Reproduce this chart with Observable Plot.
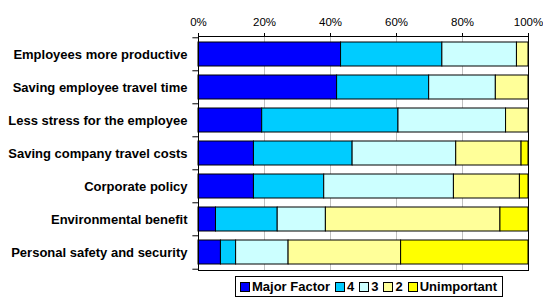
<!DOCTYPE html>
<html>
<head>
<meta charset="utf-8">
<script src="https://cdn.jsdelivr.net/npm/d3@7"></script>
<script src="https://cdn.jsdelivr.net/npm/@observablehq/plot@0.6"></script>
<style>
  body { margin: 0; background: #fff; font-family: "Liberation Sans", Arial, sans-serif; }
  #wrap { position: relative; width: 543px; height: 298px; }
  #legend { position: absolute; left: 235px; top: 276px; height: 19px; border: 1px solid #000;
    display: flex; align-items: center; padding: 0 3px 0 1px; font-weight: bold; font-size: 13px; white-space: nowrap; background:#fff; }
  .sw { display: inline-block; width: 8px; height: 8px; border: 1px solid #000; margin: 0 2px 0 3px; }
  .it { display: inline-flex; align-items: center; margin-right: 2px; }
</style>
</head>
<body>
<div id="wrap"><div id="chart"></div><div id="legend"></div></div>
<script>
const categories = [
  "Employees more productive",
  "Saving employee travel time",
  "Less stress for the employee",
  "Saving company travel costs",
  "Corporate policy",
  "Environmental benefit",
  "Personal safety and security"
];
const levels = ["Major Factor", "4", "3", "2", "Unimportant"];
const colors = ["#0000ff", "#00ccff", "#ccffff", "#ffff99", "#ffff00"];
const majorFactor = [43.2, 42.0, 19.3, 16.8, 16.8, 5.3, 6.8];
const four        = [30.7, 27.9, 41.3, 29.9, 21.3, 18.7, 4.6];
const three       = [22.6, 20.2, 32.6, 31.4, 39.3, 14.6, 15.9];
const two         = [3.5, 9.9, 6.8, 19.8, 20.0, 52.9, 34.1];
const unimportant = [0, 0, 0, 2.1, 2.6, 8.5, 38.6];
const xTicks = [0, 20, 40, 60, 80, 100];

const series = [majorFactor, four, three, two, unimportant];
const rows = [];
categories.forEach((c, i) => {
  levels.forEach((l, j) => {
    if (series[j][i] > 0) rows.push({category: c, level: l, value: series[j][i]});
  });
});

const H = 274, mt = 36, mb = 4;
const step = (H - mt - mb) / categories.length;
const boundaries = categories.map((c) => ({category: c, dy: -step / 2}))
  .concat([{category: categories[categories.length - 1], dy: step / 2}]);

const chart = Plot.plot({
  width: 543,
  height: H,
  marginLeft: 198,
  marginRight: 15,
  marginTop: mt,
  marginBottom: mb,
  style: {fontFamily: "'Liberation Sans', Arial, sans-serif", fontSize: "11px", color: "#000", background: "#fff", overflow: "visible"},
  x: {domain: [0, 100], ticks: xTicks, label: null},
  y: {domain: categories, paddingInner: 0.28, paddingOuter: 0.14, label: null},
  color: {domain: levels, range: colors},
  marks: [
    Plot.gridX(xTicks.slice(1, -1), {stroke: "#c0c0c0", strokeOpacity: 1}),
    Plot.barX(rows, Plot.stackX({y: "category", x: "value", fill: "level", order: levels, stroke: "#000", strokeWidth: 1})),
    Plot.frame({stroke: "#000"}),
    Plot.axisX(xTicks, {anchor: "top", tickSize: 4, tickPadding: 7, tickFormat: d => d + "%", fontSize: 11.5, label: null}),
    Plot.axisY({tickSize: 0, tickPadding: 11, fontWeight: "bold", fontSize: 13, label: null}),
    ...boundaries.map(b => Plot.ruleY([b.category], {y: d => d, x1: -1.7, x2: 0, dy: b.dy, stroke: "#000"})),
  ]
});
document.getElementById("chart").appendChild(chart);

const legend = document.getElementById("legend");
levels.forEach((l, i) => {
  const it = document.createElement("span");
  it.className = "it";
  it.innerHTML = `<span class="sw" style="background:${colors[i]}"></span>${l}`;
  legend.appendChild(it);
});
</script>
</body>
</html>
